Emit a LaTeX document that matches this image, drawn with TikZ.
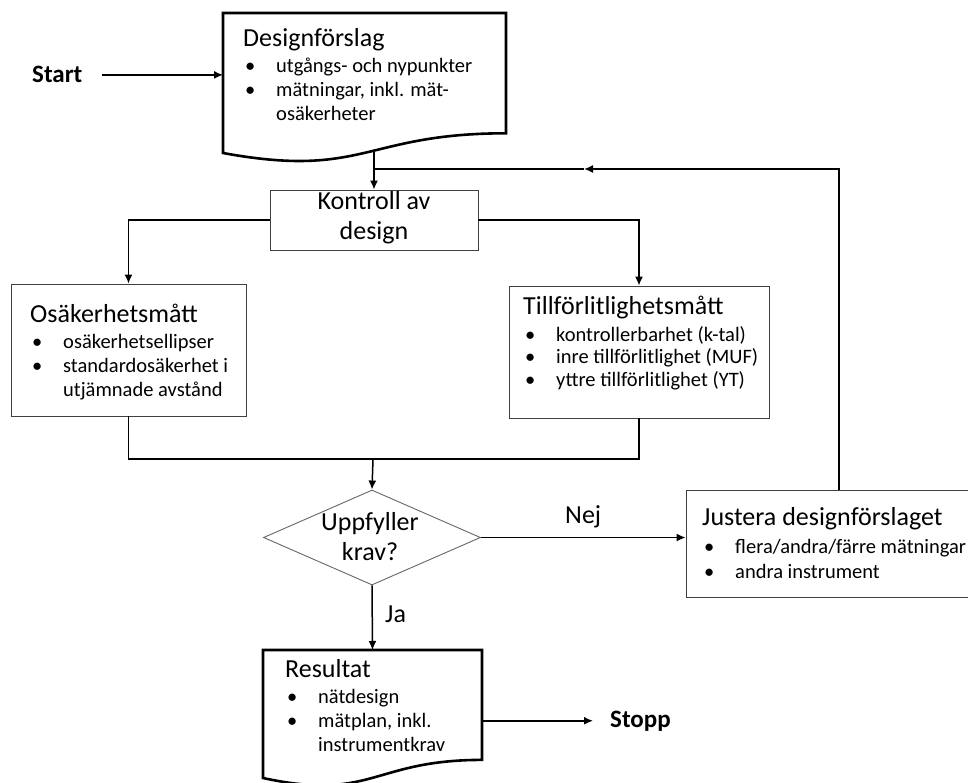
\documentclass[tikz,border=0pt]{standalone}
\usepackage{fontspec}
\setmainfont{Carlito}
\usetikzlibrary{arrows.meta,shapes.geometric}

% text sizes and list helpers
\newcommand\ttl{\fontsize{26}{30}\selectfont}
\newcommand\bul{\makebox[33pt][l]{\hspace{2pt}\textbullet}}
\newcommand\cont{\hspace*{33pt}}

\tikzset{
  conn/.style={draw=black, line width=1.5pt},
  arr/.style={conn, -{Latex[length=9pt,width=8pt]}},
  frame/.style={draw=black!75, line width=0.9pt, inner sep=0pt},
  hold/.style={inner sep=0pt, outer sep=0pt},
  doc/.style={draw=black, line width=2.6pt, line join=miter},
  txt/.style={inner sep=0pt, anchor=base west},
  lbl/.style={inner sep=0pt, anchor=base west, font=\ttl},
  bold/.style={inner sep=0pt, anchor=base west, font=\fontsize{25}{30}\selectfont\bfseries},
}

\begin{document}
\begin{tikzpicture}[x=1pt, y=-1pt]
\useasboundingbox (0,0) rectangle (968,783);
\clip (0,0) rectangle (968,783);
\fill[white] (0,0) rectangle (968,783);

% ---- document: Designförslag ----
\node[hold, minimum width=283pt, minimum height=140pt] (design) at (364.5,83) {};
\draw[doc] (223,153) -- (223,13) -- (506,13) -- (506,133.3)
  .. controls (364.5,133.3) and (364.5,179) .. (223,153) -- cycle;
\node[txt, font=\fontsize{20.5}{24}\selectfont] (designtext) at (243,46.5)
  {\begin{tabular}[t]{@{}l@{}}{\ttl Designförslag}\\[2.5pt]
   \bul utgångs- och nypunkter\\
   \bul mätningar, inkl. mät-\\
   \cont osäkerheter\end{tabular}};

% ---- start ----
\node[bold] (start) at (32,83) {Start};

% ---- Kontroll av design ----
\node[frame, minimum width=208pt, minimum height=60pt] (kontroll) at (374,220) {};
\node[inner sep=0pt, anchor=base, font=\ttl] (kontrolltext) at (374,210)
  {\begin{tabular}[t]{@{}c@{}}Kontroll av\\ design\end{tabular}};

% ---- Osäkerhetsmått ----
\node[frame, minimum width=235pt, minimum height=132pt] (osak) at (128.5,350) {};
\node[txt, font=\fontsize{20.5}{24}\selectfont] (osaktext) at (30,322)
  {\begin{tabular}[t]{@{}l@{}}{\ttl Osäkerhetsmått}\\[2pt]
   \bul osäkerhetsellipser\\
   \bul standardosäkerhet i\\
   \cont utjämnade avstånd\end{tabular}};

% ---- Tillförlitlighetsmått ----
\node[frame, minimum width=260pt, minimum height=132pt] (till) at (639,352) {};
\node[txt, font=\fontsize{20.5}{22.5}\selectfont] (tilltext) at (523,314)
  {\begin{tabular}[t]{@{}l@{}}{\ttl Tillförlitlighetsmått}\\[4.5pt]
   \bul kontrollerbarhet (k-tal)\\
   \bul inre tillförlitlighet (MUF)\\
   \bul yttre tillförlitlighet (YT)\end{tabular}};

% ---- decision ----
\node[diamond, draw=black!60, line width=0.9pt, inner sep=0pt, aspect=2.28,
      minimum width=217pt, minimum height=95pt] (beslut) at (372,537.5) {};
\node[inner sep=0pt, anchor=base, font=\ttl] (besluttext) at (370,530)
  {\begin{tabular}[t]{@{}c@{}}Uppfyller\\ krav?\end{tabular}};

% ---- Justera designförslaget ----
\node[frame, minimum width=320pt, minimum height=107pt] (justera) at (846,543.5) {};
\node[txt, font=\fontsize{20.5}{25}\selectfont] (justeratext) at (702,525)
  {\begin{tabular}[t]{@{}l@{}}{\ttl Justera designförslaget}\\[3pt]
   \bul flera/andra/färre mätningar\\
   \bul andra instrument\end{tabular}};

% ---- document: Resultat ----
\node[hold, minimum width=219pt, minimum height=128pt] (result) at (372.5,714) {};
\draw[doc] (263,778) -- (263,650) -- (482,650) -- (482,759.9)
  .. controls (372.5,759.9) and (372.5,801.7) .. (263,778) -- cycle;
\node[txt, font=\fontsize{20.5}{24}\selectfont] (resulttext) at (285,677)
  {\begin{tabular}[t]{@{}l@{}}{\ttl Resultat}\\[2pt]
   \bul nätdesign\\
   \bul mätplan, inkl.\\
   \cont instrumentkrav\end{tabular}};

\node[bold] (stopp) at (610,727) {Stopp};

% ---- edge labels ----
\node[lbl] (nej) at (565,523) {Nej};
\node[lbl] (ja) at (385,622) {Ja};

% ---- connectors ----
\coordinate (fbcorner) at (839,169);
\coordinate (fbmid) at (584,169);
\coordinate (merge) at (373,459);

\draw[arr, shorten <=19pt] (start.east) -- (start.east -| design.west);
\draw[arr] (kontroll.north |- 0,152) -- (kontroll.north);
\draw[arr] (justera.north -| fbcorner) -- (fbcorner) -- (fbmid);
\draw[conn] (fbmid) -- (fbmid -| kontroll.north);
\draw[arr] (kontroll.west) -| (osak.north);
\draw[arr] (kontroll.east) -| (till.north);
\draw[conn] (osak.south) |- (merge) -| (till.south);
\draw[arr] (merge) -- (beslut.north);
\draw[arr] (beslut.east) -- (beslut.east -| justera.west);
\draw[arr] (beslut.south) -- (result.north);
\draw[arr, shorten >=17pt] (result.east |- stopp.west) -- (stopp.west);
\end{tikzpicture}
\end{document}
